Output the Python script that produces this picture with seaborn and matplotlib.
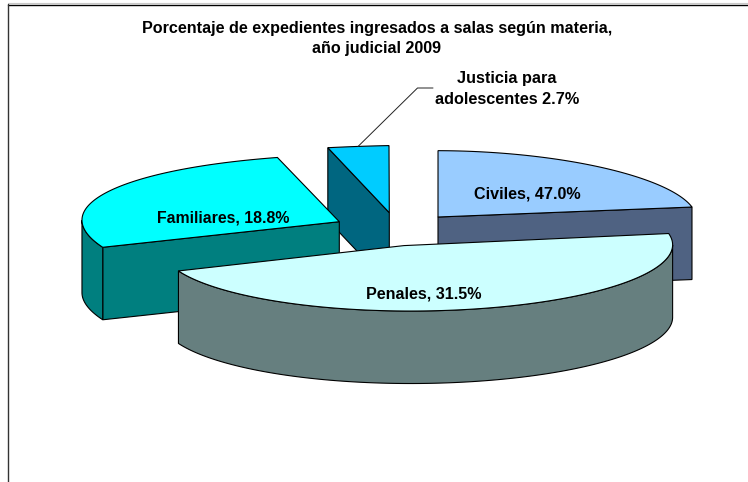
"""Exploded 3D pie of case intake by subject, judicial year 2009."""

import matplotlib
matplotlib.use("Agg")
import matplotlib.pyplot as plt
import numpy as np
import seaborn as sns

materias = ["Civiles", "Penales", "Familiares", "Justicia para adolescentes"]
porcentajes = [47.0, 31.5, 18.8, 2.7]
colores_tapa = ["#99CCFF", "#CCFFFF", "#00FFFF", "#00CCFF"]
colores_lado = ["#4F6282", "#667F7F", "#007F7F", "#006680"]

# Perspective of each exploded slice in pixels: hub, rim ellipse (centre, radii,
# tilt) and the phase on that ellipse where the slice starts and how fast it runs.
HUB = [(438, 217), (404, 245.6), (339.3, 221.7), (389.3, 212.7)]
RIM_CENTRE = [(472.8, 209.1), (417.17, 246.42), (441.4, 233.8), (359.1, 166.4)]
RIM_RADII = [(223.8, 57.6), (255.45, 64.58), (359.7, 78.7), (200, 20)]
RIM_TILT = [2.61, -0.395, 2.29, -2.0]
PHASE_START = [-99.62, -9.96, 159.93, -98.8]
PHASE_RATE = [0.5175, 1.4922, 1.2178, 1.811]
DEPTH = 72.5
DRAW_ORDER = [3, 2, 0, 1]

limites = np.concatenate([[0], np.cumsum(porcentajes)]) * 3.6


def rim_points(i, n=200):
    """Rim of slice i, running clockwise over the angle its value gives it."""
    sweep = np.linspace(0, limites[i + 1] - limites[i], n)
    phase = np.radians(PHASE_START[i] + PHASE_RATE[i] * sweep)
    tilt = np.radians(RIM_TILT[i])
    ux, uy = RIM_RADII[i][0] * np.cos(phase), RIM_RADII[i][1] * np.sin(phase)
    x = RIM_CENTRE[i][0] + ux * np.cos(tilt) - uy * np.sin(tilt)
    y = RIM_CENTRE[i][1] + ux * np.sin(tilt) + uy * np.cos(tilt)
    return x, y


def draw_side(ax, x, y, color):
    """Extrude a run of top edge points straight down."""
    ax.fill(
        np.r_[x, x[::-1]],
        np.r_[y, y[::-1] + DEPTH],
        facecolor=color,
        edgecolor="black",
        linewidth=0.8,
    )


def draw_slice(ax, i):
    hub_x, hub_y = HUB[i]
    x, y = rim_points(i)

    # Only edges that run leftwards on a clockwise outline face the viewer
    if x[0] < hub_x:
        draw_side(ax, np.array([hub_x, x[0]]), np.array([hub_y, y[0]]), colores_lado[i])
    if x[-1] > hub_x:
        draw_side(ax, np.array([x[-1], hub_x]), np.array([y[-1], hub_y]), colores_lado[i])
    front = np.where(np.diff(x) < 0)[0]
    if len(front) > 1:
        run = np.arange(front[0], front[-1] + 2)
        draw_side(ax, x[run], y[run], colores_lado[i])

    ax.fill(
        np.r_[hub_x, x],
        np.r_[hub_y, y],
        facecolor=colores_tapa[i],
        edgecolor="black",
        linewidth=0.8,
    )


sns.set_theme(style="white")
plt.rcParams["font.family"] = ["Liberation Sans", "DejaVu Sans"]

fig = plt.figure(figsize=(7.48, 4.82), dpi=100)
ax = fig.add_axes([0, 0, 1, 1])
ax.set_xlim(0, 748)
ax.set_ylim(482, 0)
ax.axis("off")

# Chart area border, cut off by the crop at the right and the bottom
ax.plot([8, 748], [3.4, 3.4], color="#C8C8C8", linewidth=0.8)
ax.plot([8, 748], [4.6, 4.6], color="black", linewidth=1.0)
ax.plot([8, 8], [4, 482], color="#333333", linewidth=1.0)

for i in DRAW_ORDER:
    draw_slice(ax, i)

ax.plot([358, 417.5, 433], [146.5, 88, 88], color="#222222", linewidth=0.7)

text_style = dict(ha="center", va="center", fontweight="bold", color="black")
ax.text(377, 28, "Porcentaje de expedientes ingresados a salas según materia,",
        fontsize=11.6, **text_style)
ax.text(377, 48, "año judicial 2009", fontsize=11.6, **text_style)
ax.text(507, 78, "Justicia para", fontsize=11.7, **text_style)
ax.text(507, 100, f"adolescentes {porcentajes[3]}%", fontsize=11.7, **text_style)
ax.text(527, 194, f"{materias[0]}, {porcentajes[0]:.1f}%", fontsize=11.6, **text_style)
ax.text(424, 294, f"{materias[1]}, {porcentajes[1]:.1f}%", fontsize=11.6, **text_style)
ax.text(223, 218, f"{materias[2]}, {porcentajes[2]:.1f}%", fontsize=11.4, **text_style)

fig.savefig("out.png", dpi=100)
